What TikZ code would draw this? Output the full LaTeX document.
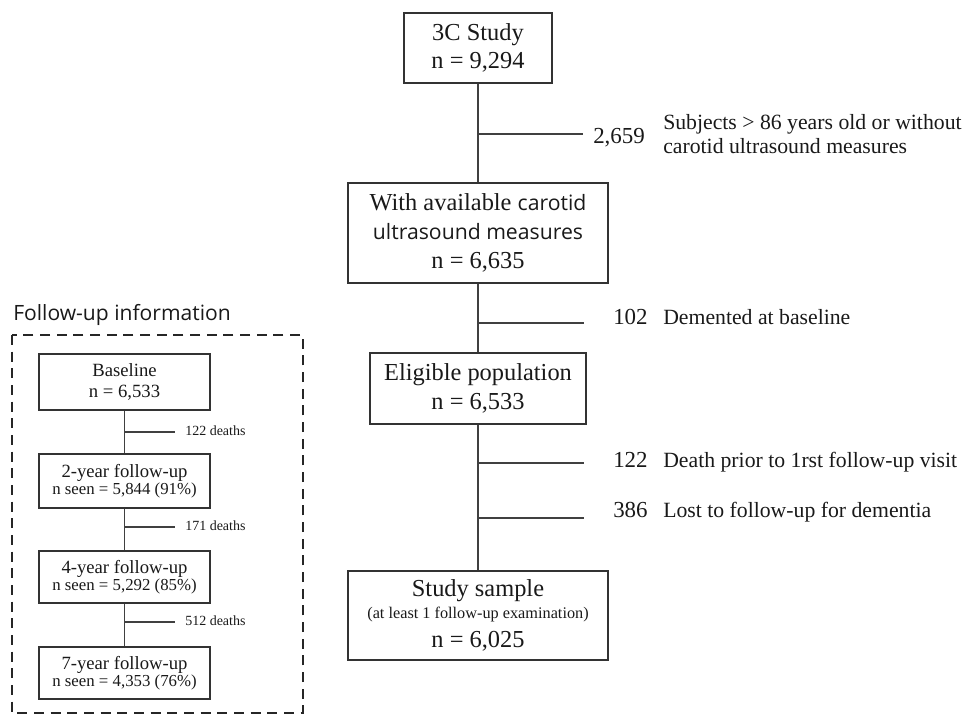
\documentclass[tikz,border=0pt]{standalone}
\usepackage{fontspec}
\setmainfont{Liberation Serif}
\newfontfamily\sansf{Open Sans}
\begin{document}
\begin{tikzpicture}[x=0.75pt,y=-0.75pt,
  box/.style={draw=black!80, line width=1.1pt, inner sep=0pt, align=center, text=black!90},
  big/.style={font=\fontsize{18.3}{21.5}\selectfont},
  small/.style={font=\fontsize{14}{16}\selectfont},
  conn/.style={draw=black!75, line width=1.1pt},
  num/.style={font=\fontsize{17.2}{20}\selectfont, anchor=base west, inner sep=0pt, text=black!90},
  desc/.style={font=\fontsize{16.3}{18}\selectfont, anchor=base west, inner sep=0pt, align=left, text=black!90},
  deaths/.style={font=\fontsize{10.5}{12}\selectfont, anchor=base west, inner sep=0pt, text=black!90},
  dashbox/.style={draw=black!85, line width=1.5pt, dash pattern=on 7.5pt off 5pt}
]
\useasboundingbox (0,0) rectangle (963,715);

% ---------- main column ----------
\node[box,big,minimum width=111pt,minimum height=52.5pt] (A) at (478,48) {3C Study\\n = 9,294};
\node[box,big,minimum width=195pt,minimum height=75pt] (B) at (478,233)
  {With available {\sansf\fontsize{15.9}{21}\selectfont carotid}\\{\sansf\fontsize{15.9}{21}\selectfont ultrasound measures}\\n = 6,635};
\node[box,big,minimum width=162pt,minimum height=53.25pt] (C) at (478,388.5) {Eligible population\\n = 6,533};
\node[box,big,minimum width=195pt,minimum height=66.75pt] (D) at (478,615.5)
  {Study sample\\[-5pt]{\fontsize{12.2}{14}\selectfont (at least 1 follow-up examination)}\\n = 6,025};

\draw[conn] (A.south) -- (B.north);
\draw[conn] (B.south) -- (C.north);
\draw[conn] (C.south) -- (D.north);

\coordinate (b1) at (478,134); \coordinate (b1e) at (583,134);
\coordinate (b2) at (478,323); \coordinate (b2e) at (584,323);
\coordinate (b3) at (478,463); \coordinate (b3e) at (584,463);
\coordinate (b4) at (478,518); \coordinate (b4e) at (584,518);
\draw[conn] (b1) -- (b1e);
\draw[conn] (b2) -- (b2e);
\draw[conn] (b3) -- (b3e);
\draw[conn] (b4) -- (b4e);

\node[num] (n1) at (593,143) {2,659};
\node[desc] (d1) at (663,153) {Subjects > 86 years old or without\\carotid ultrasound measures};
\node[num] (n2) at (613,324) {102};
\node[desc] (d2) at (663,324) {Demented at baseline};
\node[num] (n3) at (613,467) {122};
\node[desc] (d3) at (663,467) {Death prior to 1rst follow-up visit};
\node[num] (n4) at (613,517) {386};
\node[desc] (d4) at (663,517) {Lost to follow-up for dementia};

% ---------- follow-up panel ----------
\node[anchor=base west, inner sep=0pt, font=\sansf\fontsize{15.8}{18}\selectfont, text=black!90] (ft) at (13,320) {Follow-up information};
\draw[dashbox] (12,335) rectangle (303,713);

\node[box,small,minimum width=128.25pt,minimum height=42pt] (L1) at (124.5,382) {Baseline\\n = 6,533};
\node[box,small,minimum width=128.25pt,minimum height=40.5pt] (L2) at (124.5,481)
  {2-year follow-up\\[-3pt]{\fontsize{12.6}{14}\selectfont n seen = 5,844 (91\%)}};
\node[box,small,minimum width=128.25pt,minimum height=39pt] (L3) at (124.5,577)
  {4-year follow-up\\[-3pt]{\fontsize{12.6}{14}\selectfont n seen = 5,292 (85\%)}};
\node[box,small,minimum width=128.25pt,minimum height=39pt] (L4) at (124.5,673)
  {7-year follow-up\\[-3pt]{\fontsize{12.6}{14}\selectfont n seen = 4,353 (76\%)}};

\draw[conn] (L1.south) -- (L2.north);
\draw[conn] (L2.south) -- (L3.north);
\draw[conn] (L3.south) -- (L4.north);

\coordinate (l1) at (124.5,432); \coordinate (l1e) at (175,432);
\coordinate (l2) at (124.5,527); \coordinate (l2e) at (175,527);
\coordinate (l3) at (124.5,622); \coordinate (l3e) at (175,622);
\draw[conn] (l1) -- (l1e);
\draw[conn] (l2) -- (l2e);
\draw[conn] (l3) -- (l3e);

\node[deaths] (t1) at (185,435) {122 deaths};
\node[deaths] (t2) at (185,530) {171 deaths};
\node[deaths] (t3) at (185,625) {512 deaths};
\end{tikzpicture}
\end{document}
